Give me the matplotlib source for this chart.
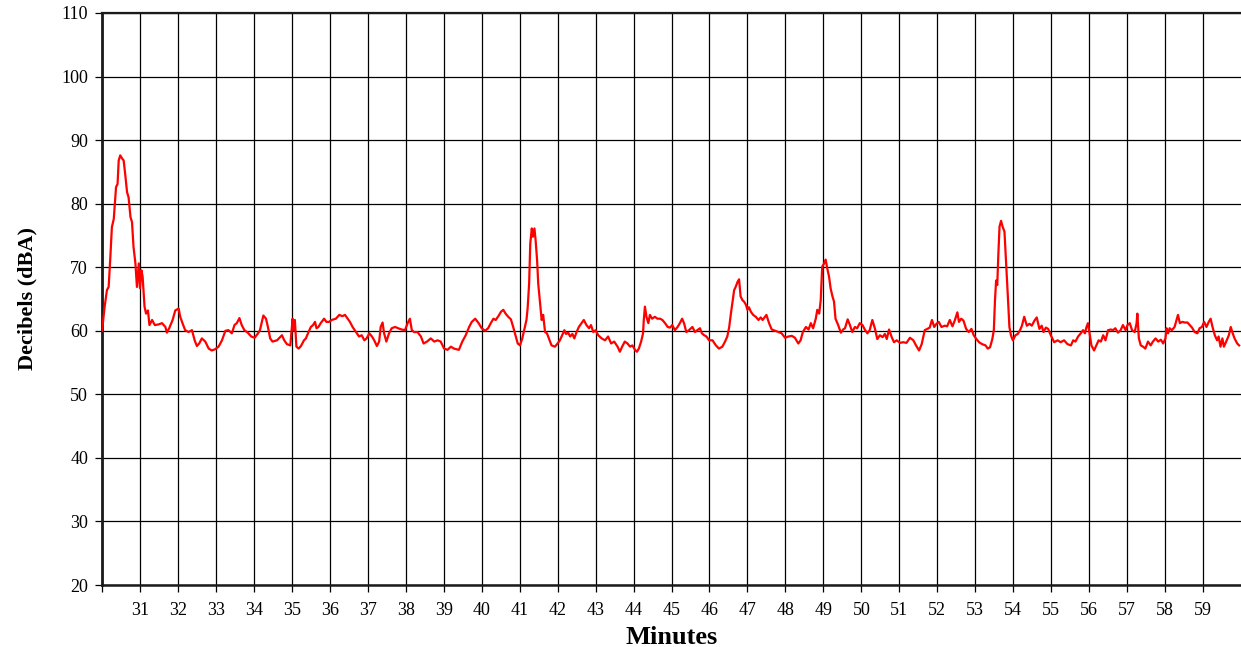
import matplotlib
matplotlib.use("Agg")
import matplotlib.pyplot as plt

plt.rcParams['font.family'] = ['Liberation Serif', 'DejaVu Serif']

# sound level trace (minute, dBA)
minutes = [
    30.00, 30.07, 30.13, 30.175, 30.22, 30.26, 30.31, 30.37, 30.41, 30.44,
    30.48, 30.53, 30.57, 30.61, 30.66, 30.70, 30.75, 30.79, 30.83, 30.88,
    30.92, 30.95, 30.97, 31.00, 31.04, 31.07, 31.12, 31.16, 31.21, 31.25,
    31.32, 31.39, 31.49, 31.58, 31.67, 31.71, 31.77, 31.86, 31.93, 32.02,
    32.06, 32.12, 32.19, 32.28, 32.37, 32.44, 32.50, 32.56, 32.63, 32.72,
    32.81, 32.89, 32.98, 33.07, 33.16, 33.25, 33.33, 33.42, 33.49, 33.55,
    33.62, 33.68, 33.75, 33.84, 33.93, 34.02, 34.11, 34.16, 34.21, 34.25,
    34.32, 34.37, 34.43, 34.49, 34.61, 34.74, 34.80, 34.87, 34.96, 35.02,
    35.05, 35.08, 35.12, 35.18, 35.24, 35.32, 35.37, 35.44, 35.50, 35.56,
    35.61, 35.65, 35.70, 35.76, 35.85, 35.91, 35.98, 36.05, 36.16, 36.25,
    36.33, 36.40, 36.47, 36.53, 36.60, 36.69, 36.77, 36.84, 36.91, 36.97,
    37.04, 37.11, 37.17, 37.24, 37.30, 37.34, 37.39, 37.43, 37.49, 37.56,
    37.63, 37.72, 37.80, 37.89, 37.98, 38.05, 38.11, 38.16, 38.22, 38.31,
    38.40, 38.47, 38.56, 38.66, 38.75, 38.84, 38.92, 39.01, 39.10, 39.19,
    39.27, 39.40, 39.49, 39.58, 39.67, 39.74, 39.83, 39.92, 40.00,
    40.09, 40.17, 40.24, 40.31, 40.37, 40.44, 40.51, 40.57, 40.63, 40.70,
    40.77, 40.83, 40.89, 40.95, 41.01, 41.07, 41.12, 41.18, 41.21, 41.25,
    41.28, 41.32, 41.35, 41.39, 41.42, 41.46, 41.49, 41.54, 41.58, 41.62,
    41.67, 41.72, 41.77, 41.84, 41.93, 42.00, 42.06, 42.12, 42.18, 42.22,
    42.28, 42.33, 42.39, 42.44, 42.50, 42.56, 42.63, 42.69, 42.76, 42.83,
    42.88, 42.94, 43.00, 43.07, 43.16, 43.25, 43.33, 43.41, 43.49, 43.58,
    43.64, 43.70, 43.77, 43.84, 43.91, 43.97, 44.04, 44.09, 44.14, 44.20,
    44.25, 44.27, 44.30, 44.34, 44.39, 44.43, 44.49, 44.56, 44.63, 44.70,
    44.76, 44.83, 44.90, 44.96, 45.02, 45.09, 45.16, 45.22, 45.28,
    45.33, 45.39, 45.46, 45.55, 45.62, 45.68, 45.75, 45.80, 45.86, 45.92,
    45.99, 46.08, 46.17, 46.25, 46.34, 46.41, 46.47, 46.52, 46.56, 46.61,
    46.65, 46.69, 46.74, 46.78, 46.82, 46.87, 46.91, 46.96, 47.00, 47.04,
    47.09, 47.15, 47.22, 47.29, 47.35, 47.40, 47.50, 47.57, 47.64, 47.73,
    47.82, 47.90, 47.99, 48.08, 48.17, 48.25, 48.34, 48.40, 48.46, 48.54,
    48.61, 48.67, 48.73, 48.80, 48.84, 48.89, 48.93, 48.97, 49.02, 49.06,
    49.11, 49.15, 49.19, 49.24, 49.28, 49.32, 49.39, 49.46, 49.52, 49.57,
    49.64, 49.70, 49.76, 49.83, 49.89, 49.96, 50.03, 50.10, 50.16, 50.22,
    50.29, 50.36,
    50.42, 50.49, 50.56, 50.62, 50.67, 50.73, 50.80, 50.86, 50.93, 51.02,
    51.10, 51.19, 51.28, 51.37, 51.44, 51.52, 51.59, 51.67, 51.74, 51.80,
    51.86, 51.92, 51.98, 52.04, 52.11, 52.20, 52.26, 52.33, 52.40, 52.46,
    52.53, 52.57, 52.63, 52.69, 52.76, 52.83, 52.90, 52.96, 53.03, 53.10,
    53.18, 53.27, 53.33, 53.39, 53.45, 53.49, 53.52, 53.55, 53.58, 53.61,
    53.64, 53.68, 53.72, 53.77, 53.81, 53.86, 53.90, 53.94, 53.99, 54.06,
    54.12, 54.18, 54.23, 54.29, 54.36, 54.43, 54.49, 54.56, 54.62, 54.69,
    54.75, 54.80, 54.86, 54.92, 54.99, 55.08, 55.17, 55.25, 55.34, 55.43,
    55.52, 55.58, 55.64, 55.71, 55.78, 55.84, 55.89, 55.93, 55.97, 56.02,
    56.06, 56.13, 56.19, 56.25, 56.31, 56.37, 56.43, 56.50, 56.57, 56.63,
    56.69, 56.76, 56.83, 56.89, 56.96, 57.01, 57.07, 57.13, 57.20, 57.25,
    57.27, 57.31, 57.36, 57.42, 57.48, 57.55, 57.62, 57.68, 57.75, 57.82,
    57.89, 57.95, 58.01, 58.04, 58.08, 58.12, 58.18, 58.25, 58.31, 58.34,
    58.39, 58.45, 58.52, 58.59, 58.65, 58.71, 58.78, 58.85, 58.91, 58.97,
    59.03, 59.09, 59.15, 59.20, 59.25, 59.31, 59.37, 59.41, 59.46, 59.51,
    59.55, 59.61, 59.68, 59.73, 59.77, 59.83, 59.90, 59.95,
]
dba = [
    60.0, 63.8, 66.4, 66.9, 71.6, 76.3, 77.6, 82.6, 83.1, 86.8,
    87.6, 87.1, 86.8, 84.7, 81.8, 81.0, 77.9, 77.1, 73.2, 70.6,
    66.9, 69.0, 70.6, 66.7, 69.5, 68.5, 63.8, 62.7, 63.2, 60.9,
    61.7, 60.9, 61.0, 61.2, 60.6, 59.7, 60.4, 61.7, 63.2, 63.5,
    62.2, 61.2, 60.1, 59.8, 60.1, 58.5, 57.6, 58.0, 58.8, 58.3,
    57.2, 56.9, 57.1, 57.5, 58.5, 60.0, 60.1, 59.6, 60.9, 61.2,
    62.0, 60.9, 60.1, 59.7, 59.1, 58.9, 59.6, 60.1, 61.4, 62.4,
    61.9, 60.6, 58.8, 58.3, 58.5, 59.3, 58.5, 57.9, 57.7, 61.9,
    60.1, 61.7, 57.5, 57.2, 57.6, 58.5, 58.8, 59.8, 60.6, 60.9,
    61.4, 60.4, 60.6, 61.2, 61.9, 61.4, 61.4, 61.7, 61.9, 62.5,
    62.3, 62.5, 61.9, 61.4, 60.6, 59.8, 59.1, 59.3, 58.5, 58.8,
    59.6, 59.1, 58.5, 57.6, 58.3, 60.6, 61.3, 59.6, 58.3, 59.6,
    60.4, 60.6, 60.4, 60.2, 60.1, 61.2, 61.9, 60.1, 59.8, 59.8,
    59.1, 58.0, 58.3, 58.8, 58.3, 58.5, 58.3, 57.2, 57.0, 57.5,
    57.2, 57.0, 58.3, 59.3, 60.6, 61.4, 61.9, 61.2, 60.4,
    60.0, 60.4, 61.2, 61.9, 61.7, 62.3, 63.0, 63.3, 62.7, 62.2,
    61.8, 60.6, 59.3, 58.0, 57.7, 58.8, 60.1, 61.7, 63.5, 67.4,
    73.7, 76.1, 74.8, 76.1, 74.3, 71.1, 67.4, 64.3, 61.7, 62.5,
    59.8, 59.6, 58.8, 57.7, 57.5, 58.0, 58.5, 59.3, 60.1, 59.5,
    59.7, 59.1, 59.5, 58.8, 59.8, 60.6, 61.2, 61.7, 60.9, 60.4,
    60.9, 59.8, 60.1, 59.3, 58.8, 58.5, 59.1, 58.0, 58.3, 57.5,
    56.7, 57.5, 58.3, 58.0, 57.5, 57.7, 57.0, 56.7, 57.2, 58.3,
    59.6, 61.7, 63.8, 62.2, 61.2, 62.5, 61.9, 62.2, 61.9, 61.9,
    61.7, 61.2, 60.6, 60.5, 60.9, 60.1, 60.6, 61.2, 61.9,
    61.2, 59.8, 60.1, 60.6, 59.8, 60.1, 60.4, 59.6, 59.3, 59.1,
    58.5, 58.5, 57.7, 57.2, 57.5, 58.3, 59.1, 60.6, 62.5, 64.6,
    66.4, 66.9, 67.7, 68.1, 65.4, 64.8, 64.6, 64.1, 63.3, 63.7,
    63.0, 62.5, 62.2, 61.7, 62.1, 61.7, 62.5, 61.2, 60.2, 60.0,
    59.8, 59.6, 58.9, 59.1, 59.2, 58.9, 58.0, 58.5, 59.8, 60.6,
    60.2, 61.2, 60.4, 61.9, 63.3, 62.7, 64.8, 70.1, 70.6, 71.2,
    69.6, 68.5, 66.7, 65.4, 64.6, 61.9, 60.9, 59.7, 60.2, 60.4,
    61.8, 60.9, 59.8, 60.6, 60.4, 61.2, 60.9, 60.1, 59.6, 60.1,
    61.7, 60.3,
    58.7, 59.3, 59.0, 59.5, 58.7, 60.2, 59.0, 58.2, 58.5, 58.1,
    58.2, 58.1, 58.9, 58.5, 57.7, 56.9, 57.9, 60.1, 60.3, 60.5,
    61.7, 60.6, 61.1, 61.4, 60.6, 60.8, 60.7, 61.7, 60.7, 61.6,
    62.9, 61.4, 61.9, 61.6, 60.3, 59.8, 60.3, 59.3, 58.7, 58.2,
    57.9, 57.7, 57.2, 57.4, 58.7, 60.1, 64.8, 67.9, 67.2, 72.2,
    76.4, 77.3, 76.4, 75.6, 71.1, 65.3, 60.6, 59.3, 58.5, 59.3,
    59.5, 60.1, 60.8, 62.2, 60.8, 61.1, 60.8, 61.6, 62.1, 60.3,
    60.8, 59.8, 60.5, 60.3, 59.3, 58.2, 58.5, 58.2, 58.5, 57.9,
    57.7, 58.5, 58.3, 59.1, 59.6, 60.1, 59.6, 60.6, 61.2, 59.3,
    57.7, 56.9, 57.7, 58.5, 58.3, 59.3, 58.5, 60.1, 60.2, 60.1,
    60.4, 59.7, 60.1, 60.9, 60.1, 60.9, 61.2, 60.1, 59.8, 61.2,
    62.7, 58.8, 57.7, 57.5, 57.2, 58.3, 57.7, 58.3, 58.8, 58.3,
    58.6, 58.0, 58.8, 60.4, 59.6, 60.4, 60.1, 60.6, 61.9, 62.5,
    61.2, 61.4, 61.3, 61.3, 60.9, 60.5, 59.8, 59.6, 60.4, 60.6,
    61.4, 60.6, 61.4, 61.9, 60.6, 59.3, 58.5, 59.1, 57.5, 58.8,
    57.5, 58.3, 59.3, 60.6, 59.8, 58.8, 58.0, 57.7,
]

x_ticks = list(range(30, 60))
x_labels = [''] + [str(m) for m in range(31, 60)]
y_ticks = list(range(20, 111, 10))

fig = plt.figure(figsize=(12.41, 6.47), dpi=100)
ax = fig.add_axes([102 / 1241, 62 / 647, 1139 / 1241, 572 / 647])

ax.plot(minutes, dba, color='#ff0000', lw=1.6, zorder=3)

ax.set_xlim(30, 60)
ax.set_ylim(20, 110)
ax.set_xticks(x_ticks)
ax.set_xticklabels(x_labels)
ax.set_yticks(y_ticks)
ax.grid(True, color='black', lw=0.9)
ax.set_axisbelow(True)

ax.tick_params(axis='both', direction='out', color='black', labelsize=13,
               length=5, width=0.9)
ax.tick_params(axis='x', pad=7)
ax.tick_params(axis='y', pad=5)

for side in ['left', 'bottom', 'top']:
    ax.spines[side].set_color('#1a1a1a')
ax.spines['left'].set_linewidth(2.0)
ax.spines['bottom'].set_linewidth(1.8)
ax.spines['top'].set_linewidth(1.6)
ax.spines['right'].set_visible(False)

ax.set_xlabel('Minutes', fontsize=19, fontweight='bold', labelpad=5)
ax.set_ylabel('Decibels (dBA)', fontsize=16, fontweight='bold', labelpad=17)

fig.savefig('out.png', dpi=100)
